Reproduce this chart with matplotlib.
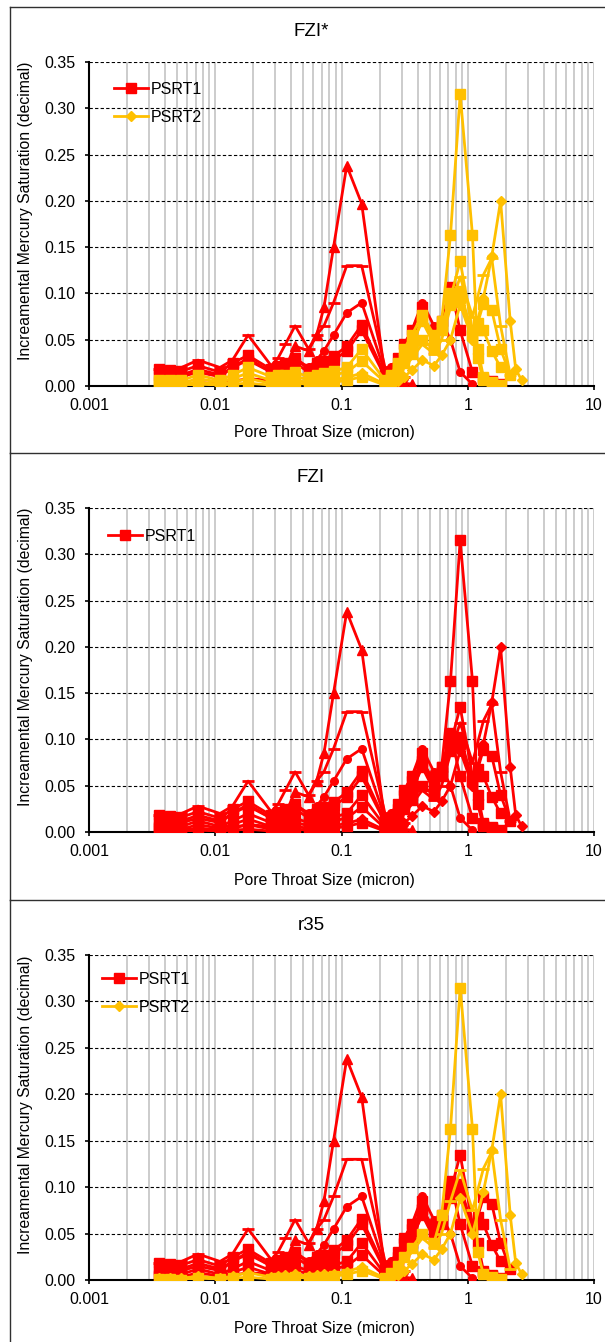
import numpy as np
import matplotlib
matplotlib.use("Agg")
import matplotlib.pyplot as plt
from matplotlib.lines import Line2D

plt.rcParams['font.family'] = ['Liberation Sans', 'DejaVu Sans']

RED = "#FF0000"
YELLOW = "#FFC000"

# pore throat sizes (micron) for the tight samples and the better samples
XL = [0.0036, 0.00435, 0.0054, 0.0073, 0.0109, 0.0137, 0.0182, 0.0277, 0.0314, 0.0359, 0.0429,
      0.0548, 0.0635, 0.0726, 0.0865, 0.11, 0.1445, 0.221, 0.245, 0.282, 0.314, 0.361]
XR = [0.221, 0.245, 0.282, 0.314, 0.361, 0.436, 0.54, 0.621, 0.73, 0.871, 1.09, 1.2, 1.33,
      1.55, 1.82, 2.17, 2.4, 2.68]

nan = np.nan
L1 = [0.002, 0.002, 0.001, 0.004, 0.002, 0.005, 0.008, 0.006, 0.012, 0.020, 0.043, 0.038, 0.055,
      0.085, 0.150, 0.238, 0.197, 0.012, 0.006, 0.004, 0.003, 0.002]
L2 = [0.018, 0.018, 0.020, 0.028, 0.020, 0.028, 0.055, 0.022, 0.030, 0.045, 0.065, 0.040, 0.055,
      0.065, 0.090, 0.130, 0.130, 0.020, 0.012, 0.010, 0.010]
L3 = [0.008, 0.008, 0.010, 0.015, 0.010, 0.020, 0.030, 0.015, 0.020, 0.022, 0.030, 0.020, 0.028,
      0.038, 0.055, 0.079, 0.090, 0.015, 0.010, 0.010, 0.009]
L4 = [0.018, 0.017, 0.016, 0.022, 0.015, 0.025, 0.033, 0.018, 0.022, 0.025, 0.030, 0.018, 0.025,
      0.027, 0.032, 0.043, 0.066, 0.012, 0.010, 0.008]
L5 = [0.012, 0.012, 0.012, 0.018, 0.012, 0.020, 0.028, 0.015, 0.018, 0.020, 0.025, 0.015, 0.020,
      0.022, 0.028, 0.038, 0.060, 0.010, 0.008]
L6 = [0.006, 0.007, 0.006, 0.012, 0.006, 0.012, 0.020, 0.010, 0.012, 0.012, 0.015, 0.010, 0.012,
      0.014, 0.016, 0.020, 0.040, 0.006, 0.004]
L7 = [0.004, 0.004, 0.003, 0.008, 0.004, 0.008, 0.014, 0.006, 0.008, 0.008, 0.010, 0.007, 0.008,
      0.010, 0.012, 0.015, 0.027, 0.004, 0.003]
L8 = [0.002, 0.002, 0.002, 0.004, 0.002, 0.004, 0.008, 0.003, 0.004, 0.005, 0.006, 0.004, 0.005,
      0.006, 0.007, 0.009, 0.014, 0.002, 0.002]
L9 = [0.001, 0.001, 0.000, 0.002, 0.001, 0.002, 0.003, 0.001, 0.002, 0.002, 0.003, 0.002, 0.002,
      0.003, 0.004, 0.006, 0.010, 0.001]

R1 = [0.002, 0.008, 0.015, 0.025, 0.035, 0.050, 0.040, 0.070, 0.163, 0.315, 0.163, 0.030, 0.006,
      0.003, 0.001]
R2 = [nan, 0.002, 0.005, 0.010, 0.017, 0.028, 0.022, 0.033, 0.050, 0.088, 0.050, nan, 0.095,
      0.140, 0.200, 0.070, 0.018, 0.006]
R3 = [nan, 0.003, 0.010, 0.020, 0.030, 0.045, 0.035, 0.050, 0.085, 0.118, 0.075, nan, 0.120,
      0.138, 0.065, 0.012]
R4 = [0.003, 0.008, 0.020, 0.030, 0.045, 0.070, 0.045, 0.065, 0.095, 0.135, 0.060, 0.068, 0.089,
      0.082, 0.040, 0.012]
R5 = [0.005, 0.010, 0.020, 0.030, 0.040, 0.075, 0.050, 0.060, 0.100, 0.103, 0.055, 0.060, 0.060,
      0.038, 0.020]
R6 = [0.004, 0.012, 0.025, 0.040, 0.055, 0.077, 0.055, 0.065, 0.088, 0.095, 0.055, 0.040, 0.010,
      0.004]
R7 = [0.010, 0.020, 0.030, 0.045, 0.060, 0.090, 0.065, 0.070, 0.050, 0.015, 0.002]
R8 = [0.008, 0.015, 0.030, 0.045, 0.060, 0.085, 0.040, 0.070, 0.107, 0.060, 0.015, nan, 0.008,
      0.005, 0.002]

curves = [(XL, L1, "^"), (XL, L2, "_"), (XL, L3, "o"), (XL, L4, "s"), (XL, L5, "s"),
          (XL, L6, "s"), (XL, L7, "s"), (XL, L8, "D"), (XL, L9, "s"),
          (XR, R1, "s"), (XR, R2, "D"), (XR, R3, "_"), (XR, R4, "s"), (XR, R5, "s"),
          (XR, R6, "s"), (XR, R7, "o"), (XR, R8, "s")]

# rock type of each curve in each panel (1 = PSRT1 red, 2 = PSRT2 yellow)
type_fzi_star = [1, 1, 1, 1, 1, 2, 2, 2, 2, 2, 2, 2, 2, 2, 2, 1, 1]
type_fzi = [1] * 17
type_r35 = [1, 1, 1, 1, 1, 1, 1, 2, 2, 2, 2, 2, 1, 1, 1, 1, 1]

panels = [("FZI*", type_fzi_star, ["PSRT1", "PSRT2"]),
          ("FZI", type_fzi, ["PSRT1"]),
          ("r35", type_r35, ["PSRT1", "PSRT2"])]

W, H = 605, 1342
fig = plt.figure(figsize=(W / 100, H / 100), dpi=100)


def rect(l, t, r, b):
    return [l / W, 1 - b / H, (r - l) / W, (b - t) / H]


axes_px = [(89, 62, 594, 386), (89, 508, 594, 832), (89, 955, 594, 1280)]
title_y = [32, 477, 925]
xlabel_y = [433, 880, 1328]
legend_pos = [(0.05, 0.938), (0.038, 0.935), (0.026, 0.948)]

for k, (title, types, labels) in enumerate(panels):
    ax = fig.add_axes(rect(*axes_px[k]))
    for ptype in (1, 2):
        col = RED if ptype == 1 else YELLOW
        for (xs, ys, m), t in zip(curves, types):
            if t != ptype:
                continue
            x = np.array(xs[:len(ys)], dtype=float)
            y = np.array(ys, dtype=float)
            ok = ~np.isnan(y)
            ms = 6.5 if m in ("s", "^") else 5.5
            mew = 2 if m == "_" else 1
            if m == "_":
                ms = 8
            ax.plot(x[ok], y[ok], color=col, lw=2, marker=m, ms=ms, mew=mew,
                    mec=col, mfc=col, zorder=3)

    ax.set_xscale("log")
    ax.set_xlim(0.001, 10)
    ax.set_ylim(0, 0.35)
    ax.set_yticks(np.arange(0, 0.351, 0.05))
    ax.set_yticklabels(["%.2f" % v for v in np.arange(0, 0.351, 0.05)])
    ax.set_xticks([0.001, 0.01, 0.1, 1, 10])
    ax.set_xticklabels(["0.001", "0.01", "0.1", "1", "10"])
    ax.xaxis.set_minor_locator(matplotlib.ticker.LogLocator(base=10, subs=np.arange(2, 10)))
    ax.xaxis.set_minor_formatter(matplotlib.ticker.NullFormatter())
    ax.grid(True, which="both", axis="x", color="#C8C8C8", lw=1.3, zorder=0)
    ax.grid(True, which="major", axis="y", color="black", lw=0.8, ls=(0, (3, 2)), zorder=0)
    ax.set_axisbelow(True)
    ax.tick_params(axis="both", which="major", labelsize=11.5, direction="out", length=3,
                   width=1.2, color="black")
    ax.tick_params(axis="y", pad=7)
    ax.tick_params(axis="x", which="minor", length=0)
    ax.tick_params(axis="x", pad=6)
    for s in ("top", "right"):
        ax.spines[s].set_visible(False)
    for s in ("left", "bottom"):
        ax.spines[s].set_linewidth(1.5)

    handles = [Line2D([], [], color=RED, lw=2, marker="s", ms=6.5)]
    if len(labels) > 1:
        handles.append(Line2D([], [], color=YELLOW, lw=2, marker="D", ms=5.5))
    ax.legend(handles, labels, loc="upper left", bbox_to_anchor=legend_pos[k], frameon=False,
              fontsize=11.5, handlelength=2.1, handletextpad=0.2, borderpad=0,
              borderaxespad=0, labelspacing=0.8)

    l, t, r, b = axes_px[k]
    fig.text(311 / W, 1 - title_y[k] / H, title, ha="center", va="center", fontsize=13.5)
    fig.text(324 / W, 1 - xlabel_y[k] / H, "Pore Throat Size (micron)", ha="center",
             va="center", fontsize=11.3)
    fig.text(26 / W, 1 - ((t + b) / 2 - 13) / H, "Increamental Mercury Saturation (decimal)",
             ha="center", va="center", rotation=90, fontsize=11.3)

# chart area borders
border = "#303030"
for y0, y1 in [(7, 453), (453, 900), (900, H)]:
    fig.add_artist(Line2D([10 / W, 10 / W], [1 - y0 / H, 1 - y1 / H], color=border, lw=1,
                          transform=fig.transFigure))
for y0 in (7, 453, 900):
    fig.add_artist(Line2D([10 / W, 1], [1 - y0 / H, 1 - y0 / H], color=border, lw=1,
                          transform=fig.transFigure))

fig.savefig("out.png", dpi=100)
